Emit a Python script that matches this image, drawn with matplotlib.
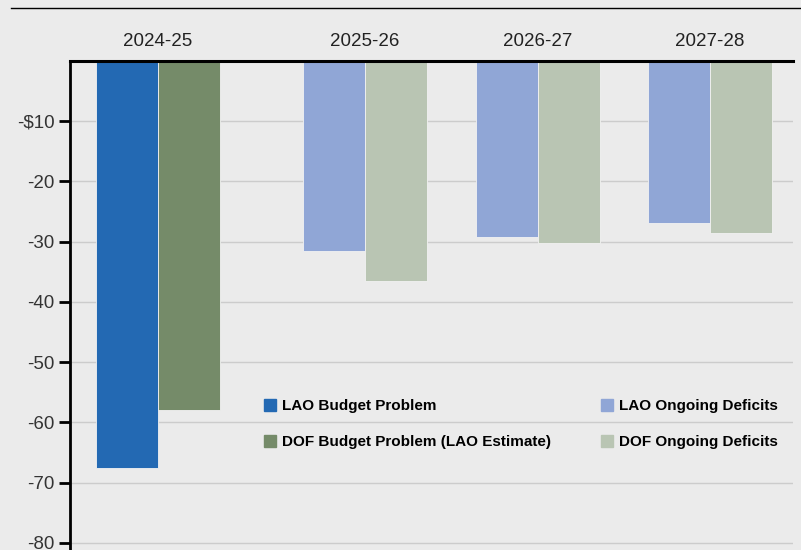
import matplotlib
matplotlib.use('Agg')
import matplotlib.pyplot as plt
from matplotlib.lines import Line2D
from matplotlib.patches import Patch

plt.rcParams['font.family'] = ['Liberation Sans', 'DejaVu Sans']

years = ['2024-25', '2025-26', '2026-27', '2027-28']
x_pos = [0, 1.2, 2.2, 3.2]
lao_problem = [-67.6]
dof_problem = [-58.0]
lao_ongoing = [-31.6, -29.2, -26.9]
dof_ongoing = [-36.5, -30.2, -28.6]
y_ticks = [-10, -20, -30, -40, -50, -60, -70, -80]
y_labels = ['-$10', '-20', '-30', '-40', '-50', '-60', '-70', '-80']

C_LAO_BP = '#2369b3'
C_DOF_BP = '#758b69'
C_LAO_OD = '#90a6d6'
C_DOF_OD = '#b9c5b3'
BG = '#ebebeb'

fig = plt.figure(figsize=(8.01, 5.5), dpi=100, facecolor=BG)
ax = fig.add_axes([70 / 801, 0, 723 / 801, 489 / 550])
ax.set_facecolor(BG)

w = 0.36
ax.bar([x_pos[0] - w / 2], lao_problem, w, color=C_LAO_BP, edgecolor='#f2f2f2', lw=0.6, zorder=3)
ax.bar([x_pos[0] + w / 2], dof_problem, w, color=C_DOF_BP, edgecolor='#f2f2f2', lw=0.6, zorder=3)
ax.bar([p - w / 2 for p in x_pos[1:]], lao_ongoing, w, color=C_LAO_OD, edgecolor='#f2f2f2', lw=0.6, zorder=3)
ax.bar([p + w / 2 for p in x_pos[1:]], dof_ongoing, w, color=C_DOF_OD, edgecolor='#f2f2f2', lw=0.6, zorder=3)

ax.set_xlim(-0.51, 3.68)
ax.set_ylim(-81.2, 0)

ax.xaxis.tick_top()
ax.set_xticks(x_pos)
ax.set_xticklabels(years, fontsize=13.5, color='#222222')
ax.tick_params(axis='x', length=0, pad=8)

ax.set_yticks(y_ticks)
ax.set_yticklabels(y_labels, fontsize=13.5, color='#333333')
ax.tick_params(axis='y', length=8, width=2, color='black', pad=3)
ax.grid(axis='y', color='#cccccc', lw=1, zorder=0)

for s in ['right', 'bottom']:
    ax.spines[s].set_visible(False)
ax.spines['left'].set_linewidth(2)
ax.spines['top'].set_linewidth(2.2)
ax.spines['top'].set_zorder(5)

# rule across the top of the figure
fig.add_artist(Line2D([11 / 801, 1], [542 / 550, 542 / 550], color='black', lw=1))

handles = [Patch(color=C_LAO_BP), Patch(color=C_DOF_BP),
           Patch(color=C_LAO_OD), Patch(color=C_DOF_OD)]
labels = ['LAO Budget Problem', 'DOF Budget Problem (LAO Estimate)',
          'LAO Ongoing Deficits', 'DOF Ongoing Deficits']
ax.legend(handles, labels, ncol=2, frameon=False, loc='upper left',
          bbox_to_anchor=(264 / 801, 1 - 399 / 550), bbox_transform=fig.transFigure,
          prop={'weight': 'bold', 'size': 11}, handlelength=0.8, handleheight=0.8,
          handletextpad=0.4, labelspacing=1.45, columnspacing=3.25, borderpad=0,
          borderaxespad=0)

fig.savefig('out.png', dpi=100, facecolor=BG)
